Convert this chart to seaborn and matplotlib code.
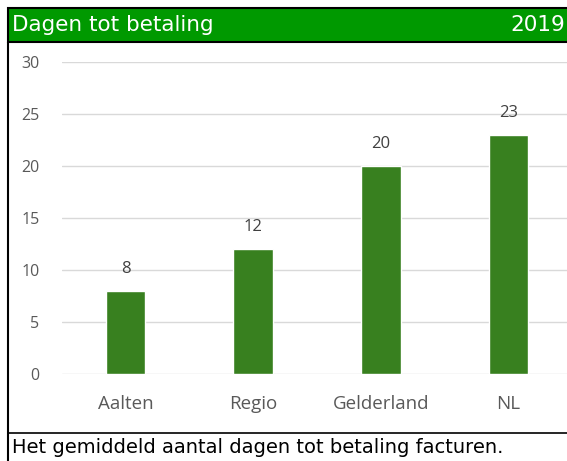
import matplotlib
matplotlib.use("Agg")
import matplotlib.pyplot as plt
import seaborn as sns
import pandas as pd
from matplotlib.patches import Rectangle
from matplotlib.lines import Line2D

# data
categories = ["Aalten", "Regio", "Gelderland", "NL"]
values = [8, 12, 20, 23]
yticks = [0, 5, 10, 15, 20, 25, 30]

title = "Dagen tot betaling"
year = "2019"
caption = "Het gemiddeld aantal dagen tot betaling facturen."

df = pd.DataFrame({"gebied": categories, "dagen": values})

sns.set_theme(style="white")
plt.rcParams["font.family"] = ["Open Sans", "DejaVu Sans"]

fig = plt.figure(figsize=(5.67, 4.61), dpi=100)
ax = fig.add_axes([0.109, 0.1887, 0.9, 0.6768])

sns.barplot(data=df, x="gebied", y="dagen", color="#38801f", width=0.31,
            saturation=1, ax=ax, zorder=3)

ax.set_ylim(0, 30)
ax.set_yticks(yticks)
ax.set_xlim(-0.5, 3.5)
ax.yaxis.grid(True, color="#d9d9d9", linewidth=1, zorder=0)
ax.set_axisbelow(True)
for s in ax.spines.values():
    s.set_visible(False)
ax.set_xlabel("")
ax.set_ylabel("")
ax.tick_params(axis="y", length=0, labelsize=11.5, labelcolor="#595959", pad=16)
ax.tick_params(axis="x", length=0, labelsize=13.5, labelcolor="#595959", pad=15)

for c in ax.containers:
    ax.bar_label(c, padding=10, fontsize=12, color="#404040")

# header band
fig.patches.append(Rectangle((8 / 567, 1 - 42 / 461), 1, 34 / 461,
                             transform=fig.transFigure, facecolor="#009900",
                             edgecolor="black", linewidth=1.5))
fig.text(12 / 567, 1 - 25 / 461, title, color="white", fontsize=15.5,
         va="center", ha="left", family="DejaVu Sans")
fig.text(565 / 567, 1 - 25 / 461, year, color="white", fontsize=15.5,
         va="center", ha="right", family="DejaVu Sans")

# frame lines
fig.lines.append(Line2D([8 / 567, 8 / 567], [0, 1 - 42 / 461],
                        transform=fig.transFigure, color="black", linewidth=1.5))
fig.lines.append(Line2D([8 / 567, 1], [1 - 433 / 461, 1 - 433 / 461],
                        transform=fig.transFigure, color="black", linewidth=1.2))

fig.text(12 / 567, 1 - 447 / 461, caption, color="black", fontsize=14,
         va="center", ha="left", family="DejaVu Sans")

fig.savefig("out.png", dpi=100)
